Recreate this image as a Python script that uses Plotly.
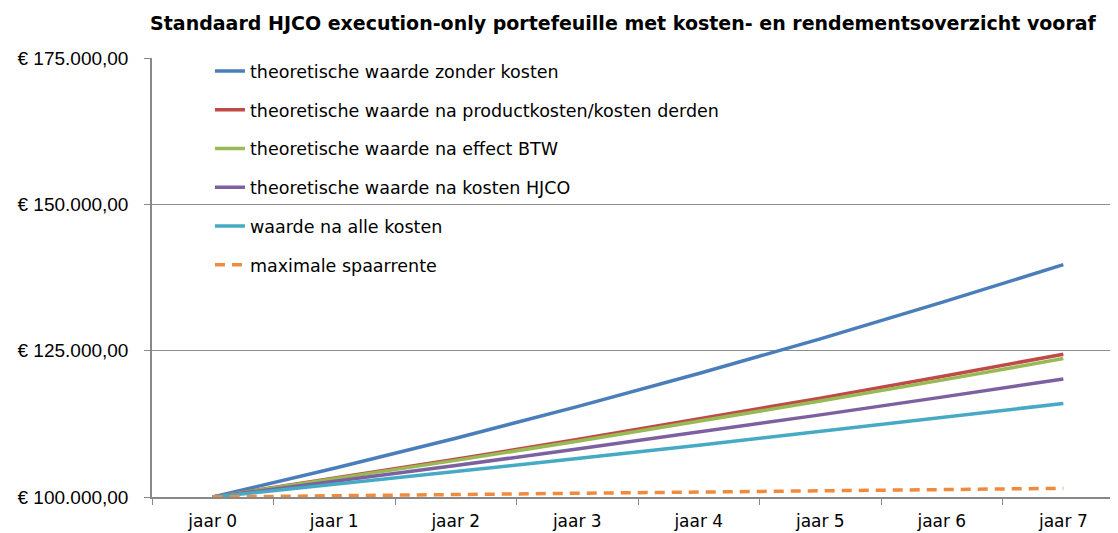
import plotly.graph_objects as go

categories = ["jaar 0", "jaar 1", "jaar 2", "jaar 3", "jaar 4", "jaar 5", "jaar 6", "jaar 7"]
zonder_kosten = [100000, 104900, 110040, 115430, 121090, 127020, 133240, 139700]
na_productkosten = [100000, 103170, 106440, 109810, 113300, 116890, 120590, 124400]
na_btw = [100000, 103080, 106260, 109530, 112910, 116390, 119970, 123650]
na_kosten_hjco = [100000, 102660, 105390, 108190, 111070, 114030, 117060, 120150]
na_alle_kosten = [100000, 102140, 104330, 106560, 108840, 111170, 113550, 115980]
spaarrente = [100000, 100210, 100420, 100630, 100840, 101050, 101270, 101480]

series = [
    ("theoretische waarde zonder kosten", zonder_kosten, "#4A7EBB", "solid"),
    ("theoretische waarde na productkosten/kosten derden", na_productkosten, "#BE4B48", "solid"),
    ("theoretische waarde na effect BTW", na_btw, "#98B954", "solid"),
    ("theoretische waarde na kosten HJCO", na_kosten_hjco, "#7D60A0", "solid"),
    ("waarde na alle kosten", na_alle_kosten, "#46AAC5", "solid"),
    ("maximale spaarrente", spaarrente, "#F08A3C", "10px,7px"),
]
yticks = [100000, 125000, 150000, 175000]
yticklabels = ["€ 100.000,00", "€ 125.000,00", "€ 150.000,00", "€ 175.000,00"]

fig = go.Figure()
for i, (name, vals, color, dash) in enumerate(series):
    fig.add_trace(go.Scatter(
        x=categories, y=vals, name=name, mode="lines",
        line=dict(color=color, width=3.5, dash=dash),
        legendgroup=f"g{i}",
    ))

fig.update_layout(
    width=1110, height=525,
    margin=dict(l=144, r=0, t=50, b=36, autoexpand=False),
    paper_bgcolor="white", plot_bgcolor="white",
    title=dict(
        text="<b>Standaard HJCO execution-only portefeuille met kosten- en rendementsoverzicht vooraf</b>",
        x=0.128, xanchor="left", xref="container", y=0.97, yanchor="middle",
        font=dict(family="DejaVu Sans", size=19, color="black"),
    ),
    legend=dict(
        x=0.06, y=1.011, xanchor="left", yanchor="top",
        bgcolor="rgba(0,0,0,0)", borderwidth=0,
        font=dict(family="DejaVu Sans", size=17.5, color="black"),
        tracegroupgap=13, itemwidth=30,
    ),
    showlegend=True,
)
fig.update_xaxes(
    type="category", range=[-0.5, 7.45], automargin=False,
    tickson="boundaries", ticks="outside", ticklen=6, tickcolor="#888888",
    showline=True, linecolor="#888888", linewidth=1.5,
    showgrid=False, zeroline=False,
    tickfont=dict(family="DejaVu Sans", size=17, color="black"),
    ticklabelstandoff=8,
)
fig.update_yaxes(
    range=[100000, 175000], tickvals=yticks, ticktext=yticklabels, automargin=False,
    ticks="outside", ticklen=6, tickcolor="#888888",
    showline=True, linecolor="#888888", linewidth=1.5,
    showgrid=True, gridcolor="#8c8c8c", gridwidth=1.2, zeroline=False,
    tickfont=dict(family="Liberation Sans", size=19, color="black"),
    ticklabelstandoff=12,
)

fig.write_html("out.html")
